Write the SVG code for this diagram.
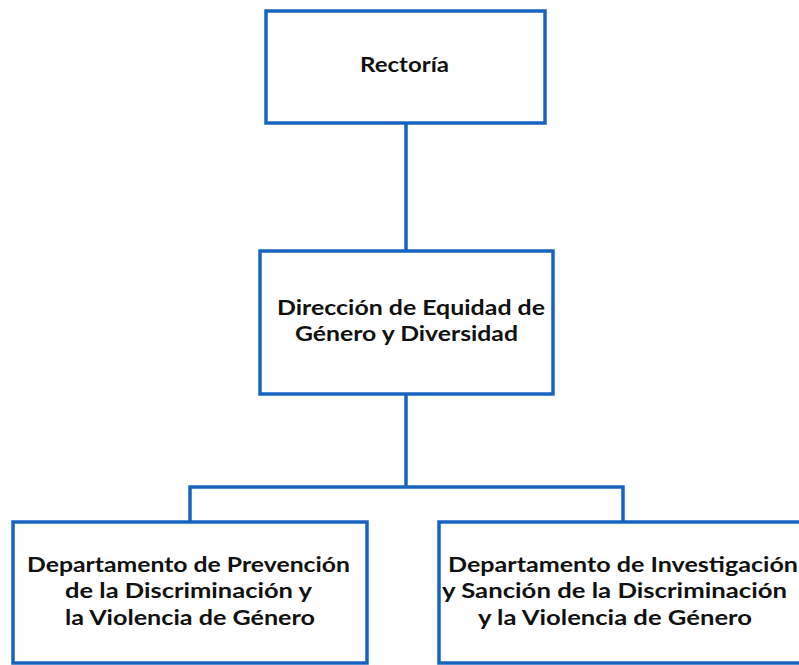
<svg xmlns="http://www.w3.org/2000/svg" width="799" height="665" viewBox="0 0 799 665">
<style>
.box{fill:#fff;stroke:#1764c0;stroke-width:3.5}
.con{fill:none;stroke:#1764c0;stroke-width:3.5}
text{font-family:Lato,"Open Sans","Liberation Sans",sans-serif;font-weight:bold;font-size:20px;fill:#111}
</style>
<rect width="799" height="665" fill="#fff"/>
<g id="connectors">
<line class="con" x1="406" y1="123" x2="406" y2="251"/>
<line class="con" x1="406" y1="394" x2="406" y2="487"/>
<polyline class="con" points="190,522 190,487 623,487 623,522"/>
</g>
<g id="rectoria">
<rect class="box" x="266" y="11" width="279" height="112"/>
<text x="360" y="72" textLength="89" lengthAdjust="spacingAndGlyphs">Rectoría</text>
</g>
<g id="direccion">
<rect class="box" x="260" y="251" width="293" height="143"/>
<text x="277" y="315" textLength="268" lengthAdjust="spacingAndGlyphs">Dirección de Equidad de</text>
<text x="295" y="341" textLength="223" lengthAdjust="spacingAndGlyphs">Género y Diversidad</text>
</g>
<g id="dep-prevencion">
<rect class="box" x="13" y="522" width="354" height="141"/>
<text x="27" y="572" textLength="323" lengthAdjust="spacingAndGlyphs">Departamento de Prevención</text>
<text x="65" y="598" textLength="247" lengthAdjust="spacingAndGlyphs">de la Discriminación y</text>
<text x="65" y="625" textLength="250" lengthAdjust="spacingAndGlyphs">la Violencia de Género</text>
</g>
<g id="dep-investigacion">
<rect class="box" x="439" y="522" width="372" height="141"/>
<text x="448" y="572" textLength="350" lengthAdjust="spacingAndGlyphs">Departamento de Investigación</text>
<text x="442" y="598" textLength="345" lengthAdjust="spacingAndGlyphs">y Sanción de la Discriminación</text>
<text x="478" y="625" textLength="274" lengthAdjust="spacingAndGlyphs">y la Violencia de Género</text>
</g>
</svg>
